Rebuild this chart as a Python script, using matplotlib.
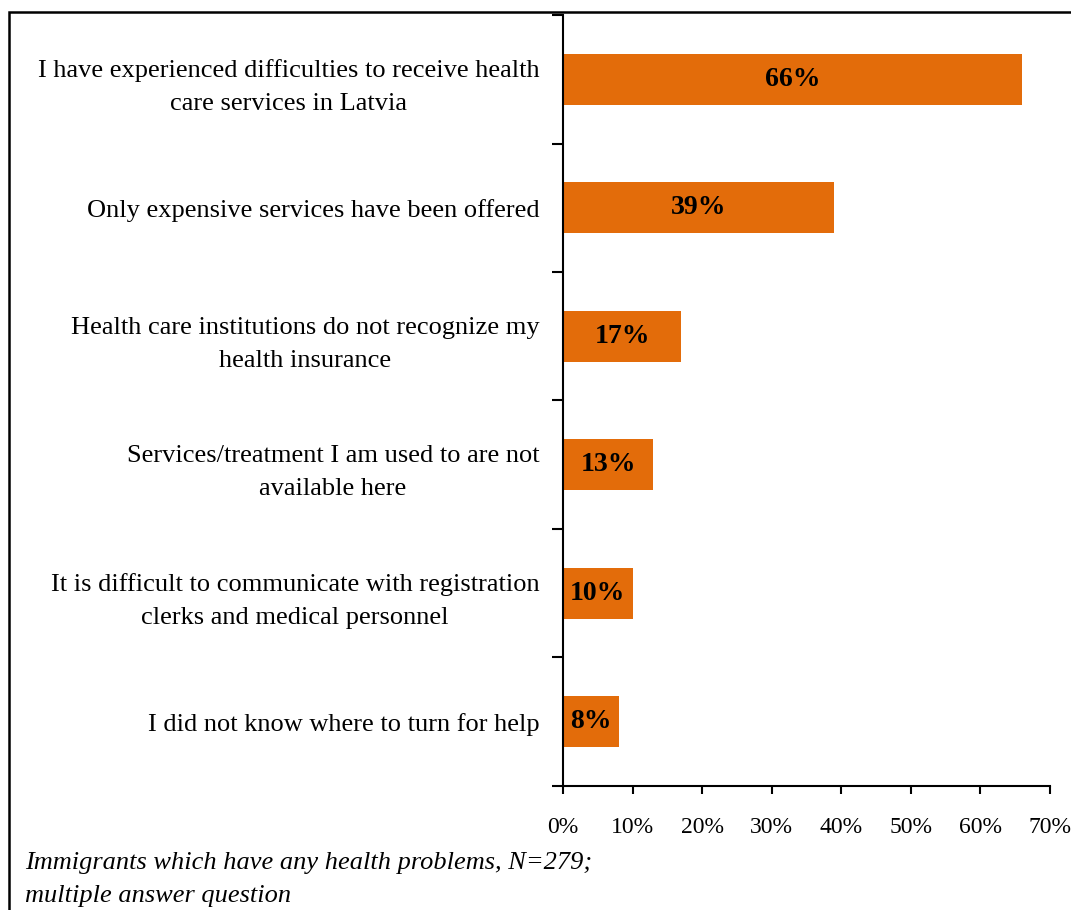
import matplotlib.pyplot as plt
from matplotlib.patches import Rectangle

plt.rcParams['font.family'] = ['Liberation Serif', 'DejaVu Serif']

categories = [
    "I have experienced difficulties to receive health\ncare services in Latvia",
    "Only expensive services have been offered",
    "Health care institutions do not recognize my\nhealth insurance",
    "Services/treatment I am used to are not\navailable here",
    "It is difficult to communicate with registration\nclerks and medical personnel",
    "I did not know where to turn for help",
]
values = [66, 39, 17, 13, 10, 8]
xticks = [0, 10, 20, 30, 40, 50, 60, 70]
bar_color = '#E36C0A'

fig = plt.figure(figsize=(10.71, 9.10), dpi=100)
ax = fig.add_axes([0.5257, 0.1363, 0.4547, 0.8472])

n = len(categories)
ypos = list(range(n))[::-1]
ax.barh(ypos, values, height=0.4, color=bar_color, zorder=2)

for y, v in zip(ypos, values):
    ax.text(v / 2, y, f"{v}%", ha='center', va='center',
            fontsize=20, fontweight='bold', color='black', zorder=3)

ax.set_xlim(0, 70)
ax.set_ylim(-0.5, n - 0.5)
ax.set_xticks(xticks)
ax.set_xticklabels([f"{t}%" for t in xticks], fontsize=17)
ax.tick_params(axis='x', direction='out', length=6, width=1.5, pad=16)

# category labels sit at bar centres, tick marks sit between bars
ax.set_yticks(ypos)
ax.set_yticklabels(categories, fontsize=19, multialignment='center',
                   linespacing=1.65)
ax.tick_params(axis='y', which='major', length=0, pad=17)
ax.set_yticks([i - 0.5 for i in range(n + 1)], minor=True)
ax.tick_params(axis='y', which='minor', direction='out', length=8, width=1.5)

for side in ['top', 'right']:
    ax.spines[side].set_visible(False)
for side in ['left', 'bottom']:
    ax.spines[side].set_linewidth(1.5)

fig.text(0.0233, 0.052, "Immigrants which have any health problems, N=279;",
         fontsize=19, style='italic', ha='left', va='center')
fig.text(0.0233, 0.015, "multiple answer question",
         fontsize=19, style='italic', ha='left', va='center')

# chart frame, running past the right and bottom edges
fig.patches.append(Rectangle((0.0084, -0.05), 1.2, 1.0368,
                             transform=fig.transFigure, fill=False,
                             edgecolor='black', linewidth=1.8, clip_on=False))

fig.savefig('out.png', dpi=100)
